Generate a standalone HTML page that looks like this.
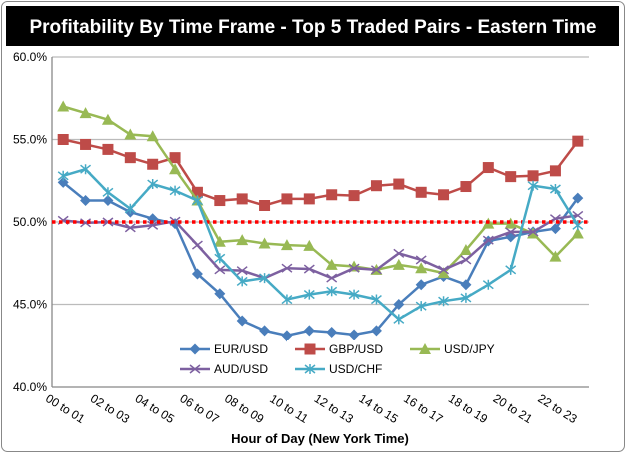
<!DOCTYPE html>
<html><head><meta charset="utf-8"><style>
body{margin:0;background:#fff;font-family:"Liberation Sans",sans-serif}
</style></head><body>
<svg id="chart" width="626" height="453" xmlns="http://www.w3.org/2000/svg" font-family="Liberation Sans, sans-serif">
<rect x="1.5" y="1.5" width="623" height="450" rx="6" fill="#fff" stroke="#888"/>
<rect x="6" y="6" width="613" height="40" fill="#000"/>
<text x="313" y="33" text-anchor="middle" font-size="19" font-weight="bold" fill="#fff">Profitability By Time Frame - Top 5 Traded Pairs - Eastern Time</text>
<g id="plot"></g>
</svg>
<script>
const categories=["00 to 01","01 to 02","02 to 03","03 to 04","04 to 05","05 to 06","06 to 07","07 to 08","08 to 09","09 to 10","10 to 11","11 to 12","12 to 13","13 to 14","14 to 15","15 to 16","16 to 17","17 to 18","18 to 19","19 to 20","20 to 21","21 to 22","22 to 23","23 to 24"];
const eurUsd=[52.4,51.3,51.3,50.6,50.2,49.9,46.85,45.65,44.0,43.4,43.1,43.4,43.3,43.15,43.4,45.0,46.2,46.7,46.2,48.85,49.1,49.4,49.6,51.45];
const gbpUsd=[55.0,54.7,54.4,53.9,53.5,53.9,51.8,51.3,51.4,51.0,51.4,51.4,51.65,51.6,52.2,52.3,51.8,51.65,52.15,53.3,52.75,52.8,53.1,54.9];
const usdJpy=[57.0,56.6,56.2,55.3,55.2,53.2,51.3,48.8,48.9,48.7,48.6,48.55,47.4,47.3,47.1,47.4,47.2,46.9,48.3,49.9,49.9,49.3,47.9,49.3];
const audUsd=[50.1,49.95,50.0,49.65,49.8,50.05,48.6,47.1,47.05,46.6,47.2,47.15,46.6,47.2,47.1,48.1,47.7,47.1,47.7,48.9,49.4,49.4,50.2,50.4];
const usdChf=[52.8,53.2,51.8,50.8,52.3,51.9,51.3,47.8,46.4,46.6,45.3,45.6,45.8,45.6,45.3,44.1,44.9,45.2,45.4,46.2,47.1,52.2,52.0,49.8];
const yTicks=[40,45,50,55,60];
const threshold=50;
const NS="http://www.w3.org/2000/svg";
const g=document.getElementById('plot');
const X0=52,X1=589,Y0=57,Y1=387,ymin=40,ymax=60;
const step=(X1-X0)/categories.length;
const xs=i=>X0+step*(i+0.5);
const ys=v=>Y1-(v-ymin)/(ymax-ymin)*(Y1-Y0);
function mk(t,a){const e=document.createElementNS(NS,t);for(const k in a)e.setAttribute(k,a[k]);g.appendChild(e);return e;}
yTicks.forEach(v=>{
  const l=mk('line',{x1:X0,x2:X1,y1:ys(v),y2:ys(v),stroke:v===40?'#888':'#bbb','stroke-width':1.3});
  
  
  const t=mk('text',{x:X0-5,y:ys(v)+4,'text-anchor':'end','font-size':12,fill:'#000'});
  t.textContent=v.toFixed(1)+'%';
  
  
});
const ax=mk('line',{x1:X0,x2:X0,y1:Y0,y2:Y1,stroke:'#888','stroke-width':1.3});


categories.forEach((c,i)=>{
  if(i%2)return;
  const x=xs(i),y=412;
  const t=mk('text',{x:x,y:y,'text-anchor':'middle','font-size':12,transform:`rotate(32 ${x} ${y})`});
  t.textContent=c;
  
  
});
const xt=mk('text',{x:320,y:443,'text-anchor':'middle','font-size':13,'font-weight':'bold'});
xt.textContent='Hour of Day (New York Time)';


function marker(kind,x,y,col,name){
  let e;
  if(kind==='diamond')e=mk('polygon',{points:`${x},${y-5.5} ${x+5.5},${y} ${x},${y+5.5} ${x-5.5},${y}`,fill:col});
  else if(kind==='square')e=mk('rect',{x:x-5.5,y:y-5.5,width:11,height:11,fill:col});
  else if(kind==='triangle')e=mk('polygon',{points:`${x},${y-6} ${x+6},${y+5} ${x-6},${y+5}`,fill:col});
  else if(kind==='x')e=mk('path',{d:`M${x-5} ${y-4}L${x+5} ${y+4}M${x-5} ${y+4}L${x+5} ${y-4}`,stroke:col,'stroke-width':1.5,fill:'none'});
  else e=mk('path',{d:`M${x-5} ${y-4}L${x+5} ${y+4}M${x-5} ${y+4}L${x+5} ${y-4}M${x} ${y-5}L${x} ${y+5}`,stroke:col,'stroke-width':1.5,fill:'none'});
  
  
}
const series=[
 ['EUR/USD',eurUsd,'#4a7ebb','diamond'],
 ['GBP/USD',gbpUsd,'#be4b48','square'],
 ['USD/JPY',usdJpy,'#98b954','triangle'],
 ['AUD/USD',audUsd,'#7d60a0','x'],
 ['USD/CHF',usdChf,'#46aac5','star']];
function drawSeries(s){
  const [name,vals,col,kind]=s;
  const p=mk('polyline',{points:vals.map((v,i)=>xs(i)+','+ys(v)).join(' '),fill:'none',stroke:col,'stroke-width':2.5});
  
  
  vals.forEach((v,i)=>marker(kind,xs(i),ys(v),col,'point-'+name.toLowerCase().replace('/','-')));
}
series.slice(0,4).forEach(drawSeries);
const th=mk('line',{x1:X0,x2:X1,y1:ys(threshold),y2:ys(threshold),stroke:'#f00','stroke-width':3.5,'stroke-dasharray':'3.5 3.5'});


drawSeries(series[4]);
const leg=[[180,349],[295,349],[410,349],[180,369],[295,369]];
series.forEach((s,i)=>{
  const [x,y]=leg[i];
  const r=mk('rect',{x:x-8,y:y-9,width:100,height:18,fill:'#fff'});
  
  
  const l=mk('line',{x1:x,x2:x+30,y1:y,y2:y,stroke:s[2],'stroke-width':2.5});
  
  
  marker(s[3],x+15,y,s[2],'legend-marker');
  const t=mk('text',{x:x+34,y:y+4,'font-size':12});
  t.textContent=s[0];
  
  
});
</script>
</body></html>
